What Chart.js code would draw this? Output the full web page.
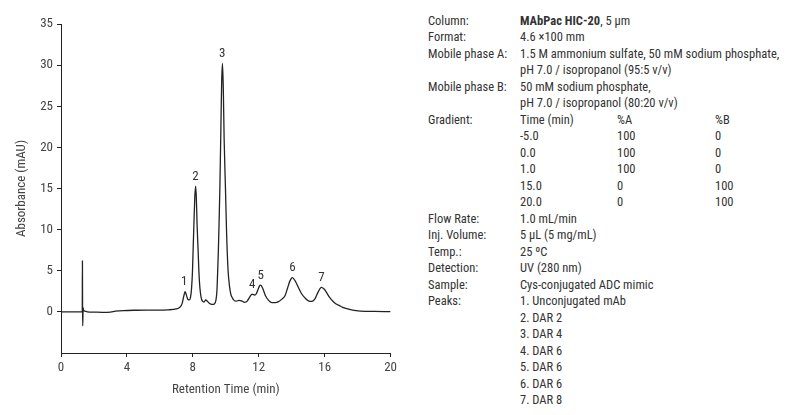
<!DOCTYPE html>
<html>
<head>
<meta charset="utf-8">
<script src="https://cdn.jsdelivr.net/npm/chart.js@4"></script>
<style>
  body { margin: 0; background: #fff; }
  #wrap { position: relative; width: 791px; height: 415px; overflow: hidden;
          font-family: 'Liberation Sans Narrow', 'Roboto Condensed', 'Arial Narrow', Roboto, sans-serif; color: #333; }
  #chartBox { position: absolute; left: 0; top: 0; width: 400px; height: 415px; }
  #info { position: absolute; left: 0; top: 12.75px; font-size: 12.5px; line-height: 16.5px; }
  .row { position: relative; height: 16.5px; white-space: nowrap; }
  .row span { position: absolute; top: 0; }
</style>
</head>
<body>
<div id="wrap">
  <div id="chartBox"><canvas id="chromChart"></canvas></div>
  <div id="info"></div>
</div>
<script>
// Chromatogram trace (retention time in min, absorbance in mAU)
const times = [
  0, 0.6, 1.0, 1.25, 1.29, 1.30, 1.31, 1.32, 1.34, 1.37, 1.45, 1.6,
  2.0, 2.5, 3.0, 3.3, 3.8, 4.5, 5.5, 6.5, 7.0, 7.2, 7.35, 7.45, 7.53,
  7.6, 7.7, 7.78, 7.86, 7.92, 7.98, 8.02, 8.07, 8.12, 8.17, 8.21, 8.26,
  8.32, 8.37, 8.43, 8.5, 8.58, 8.68, 8.78, 8.88, 9.0, 9.15, 9.3, 9.4,
  9.46, 9.5, 9.55, 9.6, 9.64, 9.7, 9.75, 9.8, 9.85, 9.9, 9.98, 10.05,
  10.14, 10.22, 10.3, 10.4, 10.5, 10.65, 10.8, 10.95, 11.15, 11.3, 11.45,
  11.6, 11.75, 11.85, 11.95, 12.05, 12.12, 12.25, 12.4, 12.6, 12.8, 13.0,
  13.2, 13.4, 13.6, 13.75, 13.9, 14.04, 14.2, 14.4, 14.6, 14.85, 15.05,
  15.2, 15.4, 15.6, 15.8, 15.95, 16.1, 16.3, 16.5, 16.7, 16.9, 17.1,
  17.4, 17.7, 18.2, 19.0, 20.0
];
const absorbance = [
  0, 0, 0, 0, 0, 6.2, 0, -1.7, 0.5, 0.2, 0.1, 0,
  -0.03, -0.05, -0.02, 0.08, 0.16, 0.2, 0.22, 0.25, 0.35, 0.55, 1.0, 1.9, 2.45,
  2.1, 1.5, 1.45, 1.8, 2.8, 5.0, 7.7, 11.0, 14.0, 15.3, 14.0, 10.5,
  7.5, 4.8, 2.9, 1.8, 1.3, 1.2, 1.45, 1.3, 1.05, 0.9, 0.95, 1.4,
  2.5, 4.5, 7.5, 11.5, 15.0, 22.0, 28.0, 30.2, 27.0, 21.0, 15.0, 9.5,
  5.0, 3.2, 2.2, 1.7, 1.4, 1.3, 1.4, 1.35, 1.15, 1.3, 1.8,
  2.15, 2.05, 2.2, 2.7, 3.15, 3.25, 2.8, 2.0, 1.4, 1.12, 1.12,
  1.25, 1.55, 2.0, 2.9, 3.8, 4.17, 3.8, 3.0, 2.2, 1.6, 1.3,
  1.27, 1.55, 2.4, 2.97, 2.8, 2.4, 1.75, 1.3, 0.95, 0.75, 0.55,
  0.35, 0.2, 0.1, 0.05, 0.03
];

// Peak numbers placed above each apex
const peakNames = ['1', '2', '3', '4', '5', '6', '7'];
const peakTimes = [7.48, 8.16, 9.78, 11.6, 12.12, 14.04, 15.8];
const peakHeights = [2.45, 15.3, 30.2, 2.15, 3.25, 4.17, 2.97];

const xTicks = [0, 4, 8, 12, 16, 20];
const yTicks = [-5, 0, 5, 10, 15, 20, 25, 30, 35];

// Method conditions text (label, value, %A, %B)
const infoRows = [
  ['Column:', '<b>MAbPac HIC-20</b>, 5 µm'],
  ['Format:', '4.6 ×100 mm'],
  ['Mobile phase A:', '1.5 M ammonium sulfate, 50 mM sodium phosphate,'],
  ['', 'pH 7.0 / isopropanol (95:5 v/v)'],
  ['Mobile phase B:', '50 mM sodium phosphate,'],
  ['', 'pH 7.0 / isopropanol (80:20 v/v)'],
  ['Gradient:', 'Time (min)', '%A', '%B'],
  ['', '-5.0', '100', '0'],
  ['', '0.0', '100', '0'],
  ['', '1.0', '100', '0'],
  ['', '15.0', '0', '100'],
  ['', '20.0', '0', '100'],
  ['Flow Rate:', '1.0 mL/min'],
  ['Inj. Volume:', '5 µL (5 mg/mL)'],
  ['Temp.:', '25 ºC'],
  ['Detection:', 'UV (280 nm)'],
  ['Sample:', 'Cys-conjugated ADC mimic'],
  ['Peaks:', '1. Unconjugated mAb'],
  ['', '2. DAR 2'],
  ['', '3. DAR 4'],
  ['', '4. DAR 6'],
  ['', '5. DAR 6'],
  ['', '6. DAR 6'],
  ['', '7. DAR 8']
];
const infoCols = [428, 520, 617, 715];

function buildInfo() {
  const box = document.getElementById('info');
  infoRows.forEach(r => {
    const row = document.createElement('div');
    row.className = 'row';
    r.forEach((txt, i) => {
      const s = document.createElement('span');
      s.style.left = infoCols[i] + 'px';
      s.innerHTML = txt;
      row.appendChild(s);
    });
    box.appendChild(row);
  });
}

const FONT = "'Liberation Sans Narrow', 'Roboto Condensed', 'Arial Narrow', Roboto, sans-serif";
const INK = '#222';

// draws peak numbers above apex positions
const peakLabels = {
  id: 'peakLabels',
  afterDatasetsDraw(chart) {
    const {ctx, scales: {x, y}} = chart;
    ctx.save();
    ctx.font = '13px ' + FONT;
    ctx.fillStyle = '#333';
    ctx.textAlign = 'center';
    ctx.textBaseline = 'bottom';
    peakNames.forEach((n, i) => {
      ctx.fillText(n, x.getPixelForValue(peakTimes[i]), y.getPixelForValue(peakHeights[i]) - 3);
    });
    ctx.restore();
  }
};

function initChart() {
  const points = times.map((t, i) => ({x: t, y: absorbance[i]}));
  new Chart(document.getElementById('chromChart'), {
    type: 'line',
    data: {
      datasets: [{
        data: points,
        borderColor: INK,
        borderWidth: 1.3,
        pointRadius: 0,
        fill: false,
        cubicInterpolationMode: 'monotone'
      }]
    },
    options: {
      responsive: true,
      maintainAspectRatio: false,
      animation: false,
      layout: { padding: { top: 24, right: 9, left: 0, bottom: 0 } },
      plugins: { legend: { display: false }, tooltip: { enabled: false } },
      scales: {
        x: {
          type: 'linear',
          min: 0,
          max: 20,
          afterBuildTicks: axis => { axis.ticks = xTicks.map(v => ({value: v})); },
          afterFit: axis => { axis.height = 62; },
          grid: { display: true, drawOnChartArea: false, tickLength: 4, color: INK },
          border: { display: true, color: INK, width: 1 },
          ticks: { color: '#444', padding: 3, maxRotation: 0, font: { family: FONT, size: 13 } },
          title: {
            display: true,
            text: 'Retention Time (min)',
            color: '#444',
            font: { family: FONT, size: 13 },
            padding: { top: 0, bottom: 17 }
          }
        },
        y: {
          min: -5,
          max: 35,
          afterBuildTicks: axis => { axis.ticks = yTicks.map(v => ({value: v})); },
          afterFit: axis => { axis.width = 61; },
          grid: {
            display: true,
            drawOnChartArea: false,
            tickLength: 4,
            color: c => (c.tick && c.tick.value === -5 ? 'rgba(0,0,0,0)' : INK)
          },
          border: { display: true, color: INK, width: 1 },
          ticks: {
            color: '#444',
            padding: 4,
            font: { family: FONT, size: 13 },
            callback: v => (v === -5 ? '' : v)
          },
          title: {
            display: true,
            text: 'Absorbance (mAU)',
            color: '#444',
            font: { family: FONT, size: 13 },
            padding: { top: 14, bottom: 0 }
          }
        }
      }
    },
    plugins: [peakLabels]
  });
}

document.addEventListener('DOMContentLoaded', function() {
  buildInfo();
  initChart();
});
</script>
</body>
</html>
